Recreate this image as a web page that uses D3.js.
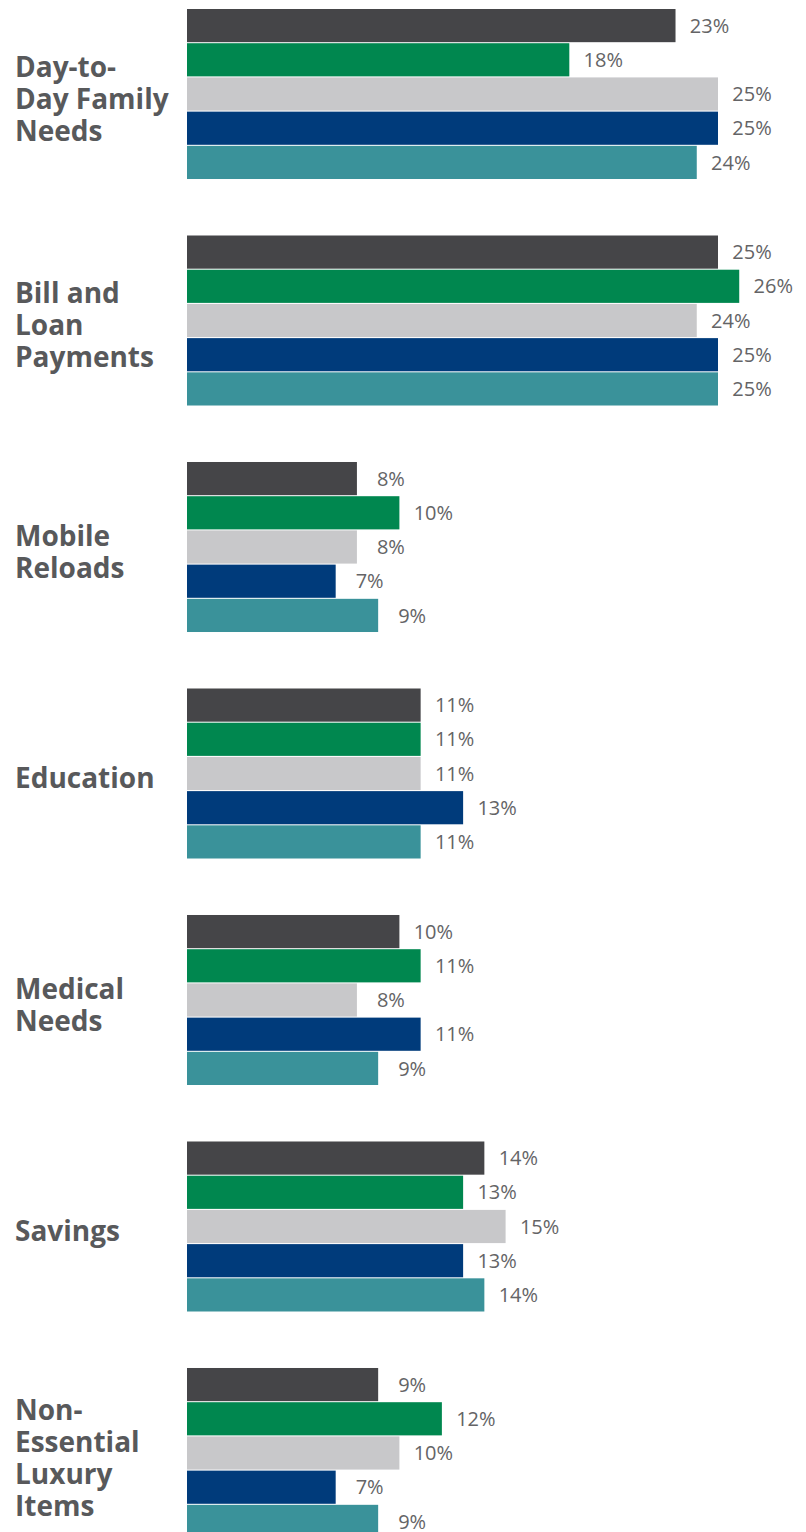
<!DOCTYPE html>
<html>
<head>
<meta charset="utf-8">
<script src="https://cdn.jsdelivr.net/npm/d3@7"></script>
<style>
  html, body { margin: 0; padding: 0; background: #ffffff; }
  svg { display: block; }
</style>
</head>
<body>
<div id="chart"></div>
<script>
// Spending categories, each drawn as a label on the left (split into lines)
const categories = [
  ["Day-to-", "Day Family", "Needs"],
  ["Bill and", "Loan", "Payments"],
  ["Mobile", "Reloads"],
  ["Education"],
  ["Medical", "Needs"],
  ["Savings"],
  ["Non-", "Essential", "Luxury", "Items"]
];

// Five series, one value (%) per category
const seriesKeys = ["s1", "s2", "s3", "s4", "s5"];
const seriesColors = ["#454548", "#00874f", "#c8c8ca", "#003b7b", "#3a929a"];
const s1 = [23, 25, 8, 11, 10, 14, 9];
const s2 = [18, 26, 10, 11, 11, 13, 12];
const s3 = [25, 24, 8, 11, 8, 15, 10];
const s4 = [25, 25, 7, 13, 11, 13, 7];
const s5 = [24, 25, 9, 11, 9, 14, 9];
const seriesValues = [s1, s2, s3, s4, s5];

const width = 806, height = 1532;

const svg = d3.select("#chart").append("svg")
  .attr("width", width)
  .attr("height", height);

const catIdx = d3.range(categories.length);

const y = d3.scaleBand()
  .domain(catIdx)
  .range([9, 1538])
  .paddingInner(0.2494)
  .paddingOuter(0);

const ySub = d3.scaleBand()
  .domain(seriesKeys)
  .range([0, y.bandwidth()])
  .paddingInner(0.03)
  .paddingOuter(0);

const x = d3.scaleLinear()
  .domain([0, 25])
  .range([187, 718]);

const groups = svg.selectAll("g.group")
  .data(catIdx)
  .join("g")
  .attr("class", "group")
  .attr("transform", i => `translate(0,${y(i)})`);

groups.each(function(ci) {
  const g = d3.select(this);
  const rows = seriesKeys.map((k, si) => ({ key: k, value: seriesValues[si][ci], color: seriesColors[si] }));

  g.selectAll("rect")
    .data(rows)
    .join("rect")
    .attr("x", x(0))
    .attr("y", d => ySub(d.key))
    .attr("width", d => x(d.value) - x(0))
    .attr("height", ySub.bandwidth())
    .attr("fill", d => d.color);

  g.selectAll("text.val")
    .data(rows)
    .join("text")
    .attr("class", "val")
    .attr("x", d => x(d.value) + 34)
    .attr("y", d => ySub(d.key) + ySub.bandwidth() / 2)
    .attr("dy", "0.36em")
    .attr("text-anchor", "middle")
    .attr("font-family", "'Open Sans', sans-serif")
    .attr("font-size", 20)
    .attr("fill", "#646466")
    .text(d => d.value + "%");

  // category label, vertically centred on the group
  const lines = categories[ci];
  const lh = 32;
  const blockMid = y.bandwidth() / 2 + 5;
  const firstBaseline = blockMid - ((lines.length - 1) * lh) / 2 + 10;
  const label = g.append("text")
    .attr("font-family", "'Open Sans', sans-serif")
    .attr("font-weight", 700)
    .attr("font-size", 28)
    .attr("fill", "#58595b");
  label.selectAll("tspan")
    .data(lines)
    .join("tspan")
    .attr("x", 15)
    .attr("y", (d, i) => firstBaseline + i * lh)
    .text(d => d);
});
</script>
</body>
</html>
